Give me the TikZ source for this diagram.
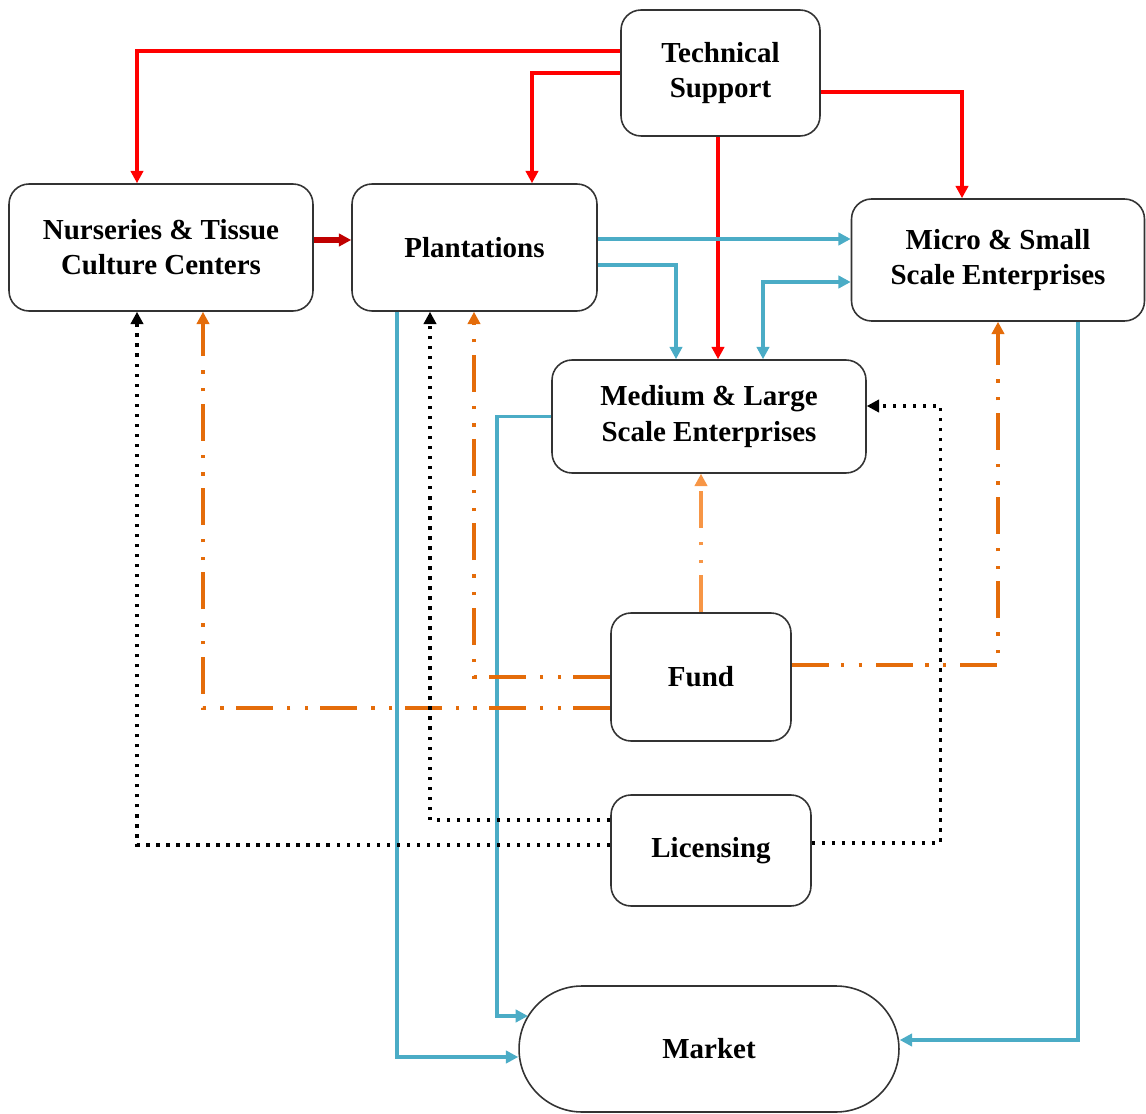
\documentclass[tikz,border=0pt]{standalone}
\usepackage{fontspec}
\setmainfont{Liberation Serif}
\usepackage{tikz}
\usetikzlibrary{positioning, arrows.meta, shapes}

\definecolor{techred}{HTML}{FF0000}
\definecolor{nurseryred}{HTML}{C00000}
\definecolor{flowblue}{HTML}{4BACC6}
\definecolor{fundorange}{HTML}{E46C0A}
\definecolor{lightorange}{HTML}{F79646}

\begin{document}
\begin{tikzpicture}[x=0.02cm, y=-0.02cm,
    box/.style={draw=black!80, line width=0.9pt, rectangle, rounded corners=0.4cm, fill=white,
        align=center, font=\fontsize{16.5}{20}\selectfont\bfseries},
    tip/.style={-{Triangle[length=7pt, width=7pt]}},
    support/.style={tip, draw=techred, line width=2.2pt},
    supply/.style={tip, draw=nurseryred, line width=3pt},
    trade/.style={tip, draw=flowblue, line width=2.2pt},
    funding/.style={tip, draw=fundorange, line width=2.2pt,
        dash pattern=on 21pt off 7pt on 2pt off 8pt on 2pt off 8pt},
    licence/.style={tip, draw=black, line width=1.9pt, dash pattern=on 1.9pt off 3.8pt}]
    \useasboundingbox (0,0) rectangle (1146,1114);

    % Boxes
    \node[box, minimum width=3.98cm, minimum height=2.52cm] (tech) at (720.5,73) {Technical\\Support};
    \node[box, minimum width=6.08cm, minimum height=2.54cm] (nurs) at (161,247.5) {Nurseries \& Tissue\\Culture Centers};
    \node[box, minimum width=4.9cm, minimum height=2.54cm] (plant) at (474.5,247.5) {Plantations};
    \node[box, minimum width=5.86cm, minimum height=2.44cm] (micro) at (998,260) {Micro \& Small\\Scale Enterprises};
    \node[box, minimum width=6.28cm, minimum height=2.26cm] (medium) at (709,416.5) {Medium \& Large\\Scale Enterprises};
    \node[box, minimum width=3.6cm, minimum height=2.56cm] (fund) at (701,677) {Fund};
    \node[box, minimum width=4.0cm, minimum height=2.22cm] (lic) at (711,850.5) {Licensing};
    \node[box, rounded corners=1.26cm, minimum width=7.6cm, minimum height=2.52cm] (market) at (709,1049) {Market};
    \coordinate (market in) at (528,1016);

    % Technical support
    \draw[support] (tech.west |- 0,51) -| (nurs.north -| 137,0);
    \draw[support] (tech.west |- 0,73) -| (plant.north -| 532,0);
    \draw[support] (tech.east |- 0,92) -| (micro.north -| 962,0);
    \draw[support] (tech.south -| 718,0) -- (medium.north -| 718,0);
    \draw[supply] (nurs.east |- 0,240) -- (plant.west |- 0,240);

    % Products to enterprises and market
    \draw[trade] (plant.east |- 0,239) -- (micro.west |- 0,239);
    \draw[trade] (plant.east |- 0,265) -| (medium.north -| 676,0);
    \draw[trade, {Triangle[length=7pt, width=7pt]}-{Triangle[length=7pt, width=7pt]}] (micro.west |- 0,282) -| (medium.north -| 763,0);
    \draw[trade] (plant.south -| 397,0) |- (market.west |- 0,1057);
    \draw[trade] (medium.west) -- ++(-54,0) |- (market in);
    \draw[trade] (micro.south -| 1078,0) |- (market.east |- 0,1040);

    % Fund
    \draw[funding, draw=lightorange] (fund.north) -- (medium.south -| fund.north);
    \draw[funding] (fund.west) -| (plant.south -| 474,0);
    \draw[funding] (fund.west |- 0,708) -| (nurs.south -| 203,0);
    \draw[funding] (fund.east |- 0,665) -| (micro.south -| 998,0);

    % Licensing
    \draw[licence] (lic.west |- 0,820) -| (plant.south -| 430,0);
    \draw[licence] (lic.west |- 0,845) -| (nurs.south -| 137,0);
    \draw[licence] (lic.east |- 0,843) -- ++(129,0) |- (medium.east |- 0,406);
\end{tikzpicture}
\end{document}
